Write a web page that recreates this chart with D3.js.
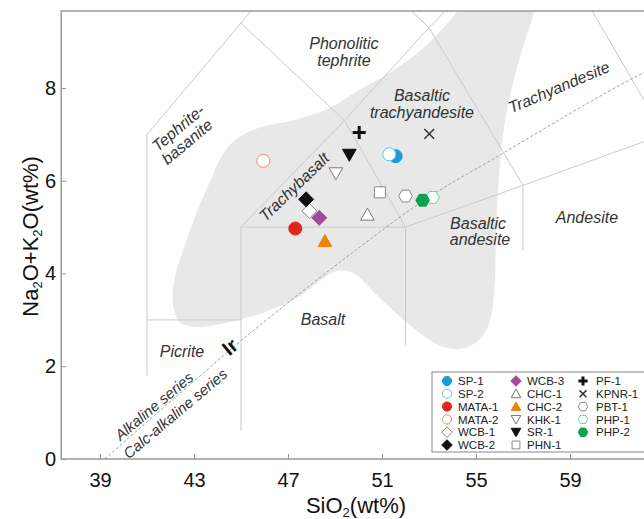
<!DOCTYPE html>
<html>
<head>
<meta charset="utf-8">
<script src="https://cdn.jsdelivr.net/npm/d3@7"></script>
<style>
  body { margin: 0; background: #fff; }
  svg { display: block; font-family: Arial, "Liberation Sans", sans-serif; }
  .zone { font-style: italic; font-size: 16px; fill: #333; }
</style>
</head>
<body>
<div id="chart"></div>
<script>
// sample data
const sampleNames = ["SP-1", "SP-2", "MATA-1", "MATA-2", "WCB-1", "WCB-2", "WCB-3", "CHC-1", "CHC-2",
                     "KHK-1", "SR-1", "PHN-1", "PF-1", "KPNR-1", "PBT-1", "PHP-1", "PHP-2"];
const sio2   = [51.58, 51.31, 47.31, 45.95, 47.91, 47.77, 48.33, 50.38, 48.57, 49.04, 49.61, 50.91, 50.03, 53.01, 52.0, 53.15, 52.73];
const alkali = [6.53, 6.57, 4.97, 6.43, 5.35, 5.60, 5.20, 5.27, 4.70, 6.16, 6.56, 5.75, 7.04, 7.01, 5.67, 5.64, 5.58];

const xTicks = [39, 43, 47, 51, 55, 59];
const yTicks = [0, 2, 4, 6, 8];

// TAS field boundaries (Le Bas et al.), SiO2 / alkali pairs
const boundaries = [
    [[41, 1.8], [41, 7], [45, 9.4]],
    [[45, 9.4], [49.4, 7.3], [52, 5]],
    [[45, 0.6], [45, 5], [52, 5], [52, 2.45]],
    [[45, 5], [49.4, 7.3]],
    [[41, 3], [45, 3]],
    [[45, 9.4], [48.4, 11.5]],
    [[49.4, 7.3], [53, 9.3], [57.6, 11.7]],
    [[48.4, 11.5], [53, 9.3], [57, 5.9], [57, 4.5]],
    [[52, 5], [57, 5.9], [63, 7]],
    [[57.6, 11.7], [63, 7]]
];

// alkaline / calc-alkaline divide
const divideLine = [[39.2, 0], [43, 1.68], [45, 2.55], [47.2, 3.45], [50, 4.55], [52.7, 5.55], [56, 6.55], [62.2, 8.35], [64, 8.8]];

// grey reference field
const fieldOutline = [
    [44.75, 6.88], [45.8, 7.15], [47.2, 7.3], [48.7, 7.55], [50.0, 7.95], [51.4, 8.35], [52.8, 8.88], [53.8, 9.4], [54.5, 9.85], [55.1, 10.3],
    [57.7, 10.3], [57.45, 9.6], [56.95, 8.8], [56.5, 7.95], [56.15, 7.0], [55.95, 5.9], [55.85, 4.9], [55.8, 3.8], [55.6, 3.0], [55.2, 2.6],
    [54.4, 2.38], [53.6, 2.42], [52.7, 2.68], [51.7, 3.1], [50.65, 3.6], [49.95, 3.95], [49.4, 4.07], [48.9, 4.02], [48.2, 3.78], [47.3, 3.45],
    [45.9, 3.15], [44.5, 2.95], [43.1, 2.85], [42.4, 2.95], [42.1, 3.35], [42.2, 3.95], [42.6, 4.6], [43.1, 5.3], [43.7, 6.0], [44.2, 6.55]
];

// field names: text, SiO2, alkali, rotation
const zoneLabels = [
    ["Phonolitic", 49.38, 8.97, 0], ["tephrite", 49.38, 8.60, 0],
    ["Basaltic", 52.7, 7.85, 0], ["trachyandesite", 52.7, 7.48, 0],
    ["Trachyandesite", 58.53, 8.02, -23],
    ["Tephrite-", 42.32, 7.14, -40], ["basanite", 42.70, 6.84, -40],
    ["Trachybasalt", 47.26, 5.87, -44],
    ["Basaltic", 55.09, 5.09, 0], ["andesite", 55.17, 4.74, 0],
    ["Andesite", 59.72, 5.22, 0],
    ["Basalt", 48.49, 3.0, 0],
    ["Picrite", 42.49, 2.31, 0]
];

const width = 644, height = 519;

const x = d3.scaleLinear().domain([39, 59]).range([100, 570]);
const y = d3.scaleLinear().domain([0, 8]).range([459, 88]);

const xMin = 37.35, xMax = 63.6, yMax = 9.66;

const style = {
    "SP-1":   {shape: "circle",  fill: "#1a9bd7", stroke: "#1a9bd7"},
    "SP-2":   {shape: "circle",  fill: "#fff",    stroke: "#5cc6ef", open: true},
    "MATA-1": {shape: "circle",  fill: "#e0261b", stroke: "#e0261b"},
    "MATA-2": {shape: "circle",  fill: "#fff",    stroke: "#ef8a68", open: true},
    "WCB-1":  {shape: "diamond", fill: "#fff",    stroke: "#8a8a8a", open: true},
    "WCB-2":  {shape: "diamond", fill: "#111",    stroke: "#111"},
    "WCB-3":  {shape: "diamond", fill: "#a3499b", stroke: "#a3499b"},
    "CHC-1":  {shape: "triUp",   fill: "#fff",    stroke: "#777", open: true},
    "CHC-2":  {shape: "triUp",   fill: "#f0820a", stroke: "#f0820a"},
    "KHK-1":  {shape: "triDown", fill: "#fff",    stroke: "#777", open: true},
    "SR-1":   {shape: "triDown", fill: "#111",    stroke: "#111"},
    "PHN-1":  {shape: "square",  fill: "#fff",    stroke: "#888", open: true},
    "PF-1":   {shape: "plus",    fill: "none",    stroke: "#111"},
    "KPNR-1": {shape: "cross",   fill: "none",    stroke: "#333"},
    "PBT-1":  {shape: "hex",     fill: "#fff",    stroke: "#888", open: true},
    "PHP-1":  {shape: "hex",     fill: "#fff",    stroke: "#6cd18a", open: true},
    "PHP-2":  {shape: "hex",     fill: "#0ca24e", stroke: "#0ca24e"}
};

function shapePath(shape, s) {
    switch (shape) {
        case "circle":
            return d3.symbol(d3.symbolCircle, Math.PI * s * s)();
        case "triUp":
            return `M0,${-s}L${1.05 * s},${0.85 * s}L${-1.05 * s},${0.85 * s}Z`;
        case "triDown":
            return `M0,${s}L${1.05 * s},${-0.85 * s}L${-1.05 * s},${-0.85 * s}Z`;
        case "diamond": {
            const d = 1.15 * s;
            return `M0,${-d}L${d},0L0,${d}L${-d},0Z`;
        }
        case "square": {
            const h = 0.85 * s;
            return `M${-h},${-h}H${h}V${h}H${-h}Z`;
        }
        case "hex": {
            const r = 1.05 * s;
            return d3.range(6).map((i, k) => {
                const a = i * Math.PI / 3;
                return (k ? "L" : "M") + (r * Math.cos(a)).toFixed(2) + "," + (r * Math.sin(a)).toFixed(2);
            }).join("") + "Z";
        }
        case "plus":
            return `M${-s},0H${s}M0,${-s}V${s}`;
        case "cross": {
            const c = 0.75 * s;
            return `M${-c},${-c}L${c},${c}M${-c},${c}L${c},${-c}`;
        }
    }
}

function drawMarker(sel, name, s) {
    const st = style[name];
    sel.append("path")
        .attr("d", shapePath(st.shape, s))
        .attr("fill", st.fill)
        .attr("stroke", st.stroke)
        .attr("stroke-width", st.shape === "plus" ? 3 : (st.shape === "cross" ? 1.5 : 1));
}

const svg = d3.select("#chart").append("svg")
    .attr("width", width)
    .attr("height", height);

svg.append("clipPath").attr("id", "plotClip")
    .append("rect")
    .attr("x", x(xMin)).attr("y", y(yMax))
    .attr("width", x(xMax) - x(xMin)).attr("height", y(0) - y(yMax));

const plot = svg.append("g").attr("clip-path", "url(#plotClip)");

// grey field
plot.append("path")
    .datum(fieldOutline)
    .attr("d", d3.line().x(d => x(d[0])).y(d => y(d[1])).curve(d3.curveCatmullRomClosed.alpha(0.5)))
    .attr("fill", "#e8e8e8");

// boundaries
const lineGen = d3.line().x(d => x(d[0])).y(d => y(d[1]));
plot.selectAll("path.bound")
    .data(boundaries)
    .join("path")
    .attr("class", "bound")
    .attr("d", lineGen)
    .attr("fill", "none")
    .attr("stroke", "#c9c9c9")
    .attr("stroke-width", 1);

plot.append("path")
    .datum(divideLine)
    .attr("d", d3.line().x(d => x(d[0])).y(d => y(d[1])).curve(d3.curveMonotoneX))
    .attr("fill", "none")
    .attr("stroke", "#8a8a8a")
    .attr("stroke-width", 0.8)
    .attr("stroke-dasharray", "3,2");

// zone names
svg.selectAll("text.zone")
    .data(zoneLabels)
    .join("text")
    .attr("class", "zone")
    .attr("text-anchor", "middle")
    .attr("dy", "0.35em")
    .attr("transform", d => `translate(${x(d[1])},${y(d[2])}) rotate(${d[3]})`)
    .text(d => d[0]);

svg.append("text")
    .attr("class", "zone")
    .attr("text-anchor", "middle").attr("dy", "0.35em")
    .attr("transform", `translate(${x(41.3)},${y(1.14)}) rotate(-40)`)
    .style("font-size", "15px")
    .text("Alkaline series");
svg.append("text")
    .attr("class", "zone")
    .attr("text-anchor", "middle").attr("dy", "0.35em")
    .attr("transform", `translate(${x(42.2)},${y(0.98)}) rotate(-40)`)
    .style("font-size", "15px")
    .text("Calc-alkaline series");
svg.append("text")
    .attr("text-anchor", "middle").attr("dy", "0.35em")
    .attr("transform", `translate(${x(44.53)},${y(2.42)}) rotate(-40)`)
    .style("font-size", "20px").style("font-weight", "bold").attr("fill", "#111")
    .text("Ir");

// frame
svg.append("rect")
    .attr("x", x(xMin)).attr("y", y(yMax))
    .attr("width", x(xMax) - x(xMin)).attr("height", y(0) - y(yMax))
    .attr("fill", "none")
    .attr("stroke", "#999")
    .attr("stroke-width", 1.5);

// axes
const xAxis = svg.append("g")
    .attr("transform", `translate(0,${y(0)})`)
    .call(d3.axisBottom(x).tickValues(xTicks).tickSizeInner(-5).tickSizeOuter(0).tickPadding(14));
const yAxis = svg.append("g")
    .attr("transform", `translate(${x(xMin)},0)`)
    .call(d3.axisLeft(y).tickValues(yTicks).tickSizeInner(-5).tickSizeOuter(0).tickPadding(5));
[xAxis, yAxis].forEach(ax => {
    ax.select(".domain").remove();
    ax.selectAll("line").attr("stroke", "#999");
    ax.selectAll("text").attr("fill", "#111").style("font-size", "20px").style("font-family", "Arial, 'Liberation Sans', sans-serif");
});

// axis titles
const xt = svg.append("text")
    .attr("x", 356).attr("y", 513)
    .attr("text-anchor", "middle")
    .style("font-size", "22px").attr("fill", "#111");
xt.append("tspan").text("SiO");
xt.append("tspan").text("2").style("font-size", "13px").attr("dy", 4);
xt.append("tspan").text("(wt%)").attr("dy", -4);

const yt = svg.append("text")
    .attr("transform", `translate(38,${y(4.8)}) rotate(-90)`)
    .attr("text-anchor", "middle")
    .style("font-size", "22px").attr("fill", "#111");
yt.append("tspan").text("Na");
yt.append("tspan").text("2").style("font-size", "13px").attr("dy", 4);
yt.append("tspan").text("O+K").attr("dy", -4);
yt.append("tspan").text("2").style("font-size", "13px").attr("dy", 4);
yt.append("tspan").text("O(wt%)").attr("dy", -4);

// samples
const samples = sampleNames.map((name, i) => ({name, sio2: sio2[i], alkali: alkali[i]}));
svg.append("g").selectAll("g.pt")
    .data(samples)
    .join("g")
    .attr("class", "pt")
    .attr("transform", d => `translate(${x(d.sio2)},${y(d.alkali)})`)
    .each(function(d) { drawMarker(d3.select(this), d.name, 6.5); });

// legend
const legend = svg.append("g");
legend.append("rect")
    .attr("x", 432).attr("y", 372)
    .attr("width", 240).attr("height", 80)
    .attr("fill", "#fff")
    .attr("stroke", "#888")
    .attr("stroke-width", 1);
const colMarkX = [447, 516, 583], colTextX = [458, 527, 596];
sampleNames.forEach((name, i) => {
    const col = Math.floor(i / 6), row = i % 6;
    const ly = 381 + row * 12.8;
    const g = legend.append("g").attr("transform", `translate(${colMarkX[col]},${ly})`);
    drawMarker(g, name, 4.6);
    legend.append("text")
        .attr("x", colTextX[col]).attr("y", ly)
        .attr("dy", "0.36em")
        .style("font-size", "11.5px")
        .attr("fill", "#222")
        .text(name);
});
</script>
</body>
</html>
